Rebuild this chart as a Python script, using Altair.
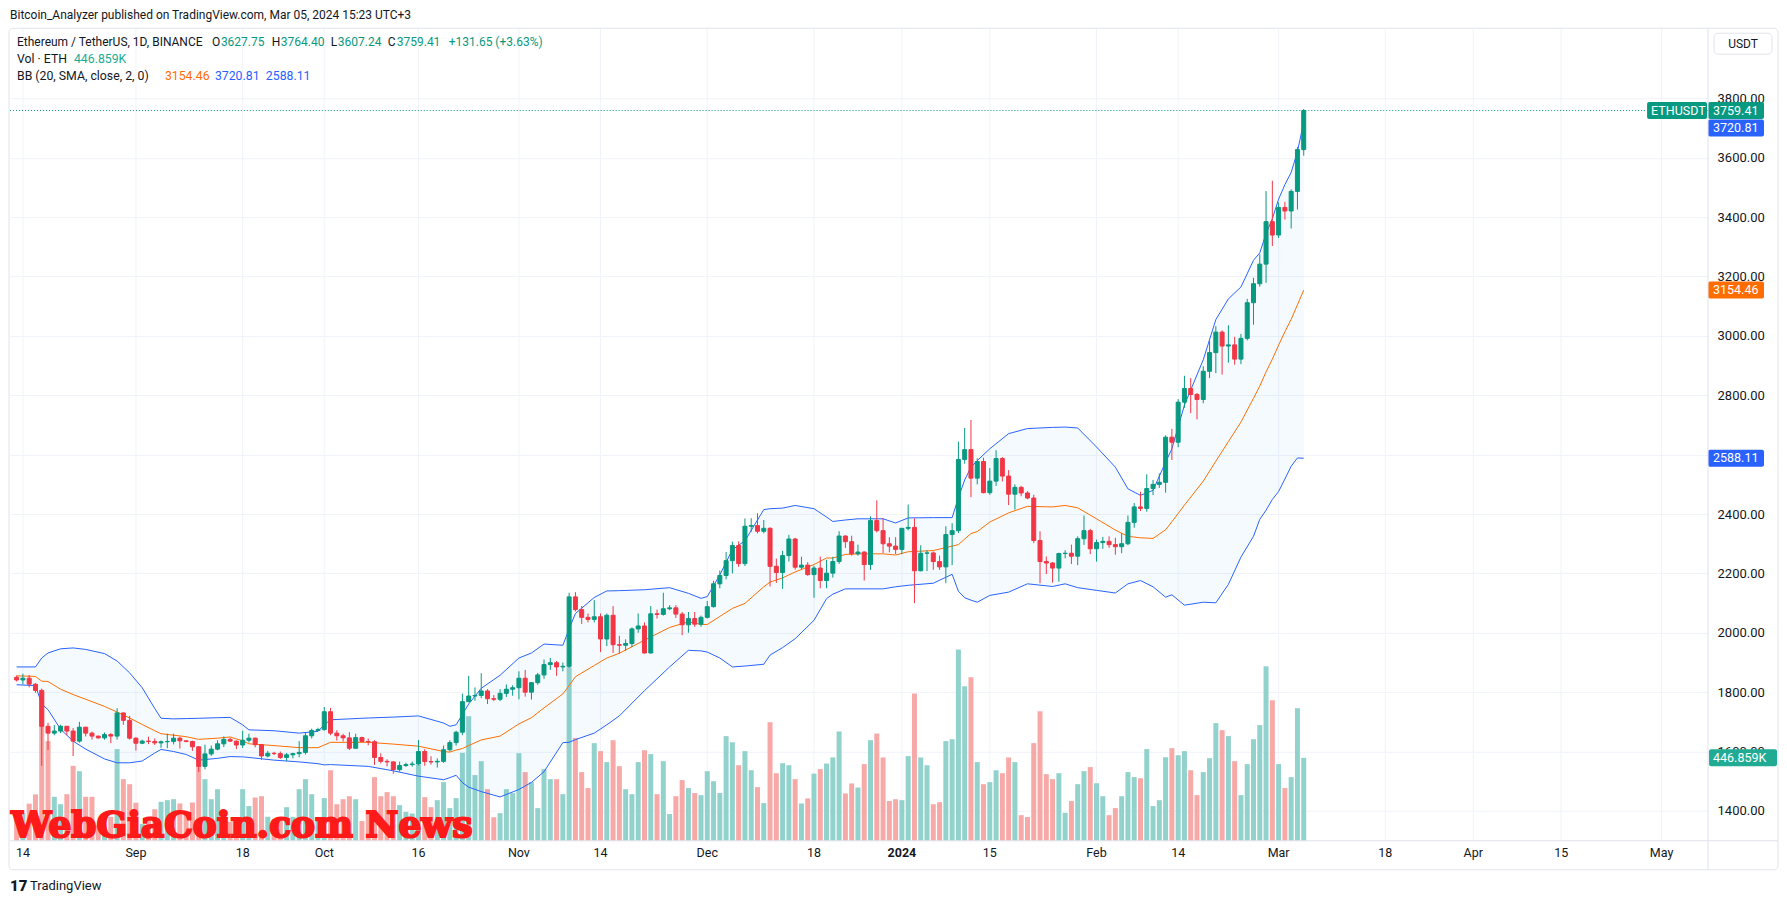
import altair as alt
import pandas as pd

# ---------------- data (ETH/USDT daily, Binance) ----------------
start_date = "2023-08-13"

open_ = [
    # Aug 13-31
    1850, 1841, 1847, 1827, 1806, 1685, 1662, 1669, 1685, 1669, 1635, 1682, 1662, 1652, 1646, 1657, 1652, 1730, 1705,
    # Sep
    1645, 1628, 1635, 1634, 1629, 1633, 1634, 1645, 1636, 1634, 1616, 1550, 1592, 1608, 1626, 1641, 1635, 1622, 1638, 1645,
    1623, 1585, 1594, 1593, 1580, 1589, 1593, 1597, 1653, 1671,
    # Oct
    1674, 1734, 1662, 1653, 1646, 1611, 1647, 1634, 1633, 1580, 1567, 1565, 1539, 1553, 1556, 1558, 1600, 1566, 1565, 1567,
    1606, 1630, 1665, 1768, 1787, 1789, 1804, 1778, 1776, 1796, 1810,
    # Nov
    1815, 1847, 1800, 1832, 1858, 1893, 1899, 1885, 1887, 2121, 2078, 2052, 2045, 2054, 1979, 2059, 1960, 1958, 1964, 2013,
    2023, 1932, 2064, 2062, 2081, 2084, 2063, 2027, 2048, 2029,
    # Dec
    2052, 2088, 2165, 2193, 2243, 2294, 2233, 2359, 2361, 2342, 2352, 2224, 2203, 2260, 2316, 2221, 2228, 2196, 2218, 2176,
    2201, 2240, 2326, 2307, 2266, 2272, 2230, 2378, 2344, 2300, 2292,
    # Jan
    2281, 2352, 2355, 2209, 2268, 2269, 2240, 2222, 2331, 2344, 2584, 2617, 2521, 2577, 2472, 2511, 2587, 2528, 2467, 2490,
    2471, 2454, 2311, 2240, 2235, 2218, 2267, 2268, 2258, 2317, 2344,
    # Feb
    2283, 2304, 2308, 2297, 2290, 2300, 2372, 2424, 2419, 2486, 2500, 2507, 2659, 2642, 2777, 2823, 2803, 2786, 2881, 2944,
    3013, 2966, 2970, 2922, 2992, 3112, 3176, 3242, 3385,
    # Mar 1-5
    3340, 3433, 3421, 3487, 3627.75,
]

high = [
    1856, 1862, 1858, 1830, 1812, 1697, 1689, 1690, 1686, 1679, 1700, 1683, 1667, 1653, 1664, 1662, 1746, 1731, 1720,
    1648, 1640, 1650, 1644, 1637, 1660, 1660, 1650, 1638, 1636, 1617, 1623, 1620, 1638, 1651, 1646, 1637, 1670, 1660, 1647,
    1625, 1602, 1599, 1600, 1595, 1596, 1635, 1664, 1677, 1680,
    1750, 1747, 1672, 1660, 1665, 1660, 1650, 1644, 1638, 1594, 1574, 1567, 1566, 1562, 1566, 1639, 1608, 1584, 1577, 1620,
    1638, 1670, 1795, 1855, 1816, 1864, 1810, 1790, 1810, 1826, 1823,
    1870, 1875, 1834, 1865, 1910, 1915, 1905, 1900, 2135, 2137, 2090, 2065, 2110, 2065, 2065, 2090, 1990, 1978, 2018, 2065,
    2035, 2090, 2078, 2135, 2093, 2093, 2070, 2070, 2070, 2058,
    2107, 2175, 2210, 2272, 2307, 2308, 2385, 2386, 2403, 2380, 2355, 2250, 2276, 2330, 2320, 2256, 2238, 2226, 2257, 2246,
    2256, 2342, 2328, 2327, 2297, 2274, 2392, 2446, 2386, 2322, 2322,
    2352, 2432, 2385, 2295, 2278, 2274, 2260, 2359, 2369, 2644, 2690, 2717, 2588, 2590, 2555, 2615, 2592, 2548, 2500, 2495,
    2477, 2465, 2342, 2257, 2238, 2270, 2278, 2297, 2325, 2395, 2350,
    2314, 2323, 2325, 2320, 2335, 2395, 2437, 2475, 2534, 2515, 2537, 2665, 2687, 2787, 2866, 2858, 2808, 2898, 2984, 3033,
    3019, 3036, 2997, 3007, 3125, 3196, 3275, 3488, 3523,
    3450, 3452, 3494, 3637, 3764.40,
]

low = [
    1836, 1826, 1816, 1798, 1552, 1605, 1655, 1662, 1655, 1585, 1630, 1651, 1640, 1643, 1640, 1628, 1640, 1690, 1640,
    1603, 1625, 1625, 1622, 1612, 1611, 1624, 1610, 1631, 1602, 1531, 1540, 1585, 1604, 1615, 1632, 1608, 1612, 1630, 1614,
    1572, 1580, 1588, 1575, 1568, 1577, 1581, 1590, 1644, 1668,
    1670, 1655, 1637, 1634, 1605, 1610, 1631, 1621, 1555, 1560, 1550, 1525, 1532, 1548, 1549, 1553, 1552, 1556, 1546, 1562,
    1600, 1620, 1655, 1766, 1771, 1780, 1760, 1770, 1770, 1784, 1788,
    1776, 1785, 1775, 1825, 1845, 1875, 1855, 1870, 1882, 2072, 2030, 2035, 2035, 1935, 1955, 1932, 1930, 1940, 1952, 2000,
    1930, 1930, 2048, 2058, 2076, 2050, 1992, 2000, 2020, 2020,
    2048, 2085, 2150, 2180, 2200, 2222, 2225, 2340, 2335, 2335, 2156, 2168, 2148, 2240, 2213, 2214, 2192, 2118, 2150, 2150,
    2186, 2232, 2286, 2260, 2260, 2176, 2212, 2338, 2269, 2271, 2265,
    2265, 2345, 2100, 2207, 2208, 2212, 2212, 2167, 2228, 2336, 2570, 2457, 2500, 2470, 2465, 2495, 2510, 2430, 2415, 2460,
    2450, 2302, 2167, 2198, 2169, 2172, 2251, 2232, 2228, 2296, 2265,
    2240, 2283, 2286, 2263, 2268, 2295, 2354, 2410, 2408, 2464, 2488, 2472, 2582, 2625, 2758, 2740, 2719, 2773, 2858, 2875,
    2870, 2910, 2903, 2905, 2985, 3038, 3166, 3179, 3303,
    3330, 3392, 3362, 3426, 3607.24,
]

close = [
    1841, 1847, 1827, 1806, 1685, 1662, 1669, 1685, 1669, 1635, 1682, 1662, 1652, 1646, 1657, 1652, 1730, 1705, 1645,
    1628, 1635, 1634, 1629, 1633, 1634, 1645, 1636, 1634, 1616, 1550, 1592, 1608, 1626, 1641, 1635, 1622, 1638, 1645, 1623,
    1585, 1594, 1593, 1580, 1589, 1593, 1597, 1653, 1671, 1674,
    1734, 1662, 1653, 1646, 1611, 1647, 1634, 1633, 1580, 1567, 1565, 1539, 1553, 1556, 1558, 1600, 1566, 1565, 1567, 1606,
    1630, 1665, 1768, 1787, 1789, 1804, 1778, 1776, 1796, 1810, 1815,
    1847, 1800, 1832, 1858, 1893, 1899, 1885, 1887, 2121, 2078, 2052, 2045, 2054, 1979, 2059, 1960, 1958, 1964, 2013, 2023,
    1932, 2064, 2062, 2081, 2084, 2063, 2027, 2048, 2029, 2052,
    2088, 2165, 2193, 2243, 2294, 2233, 2359, 2361, 2342, 2352, 2224, 2203, 2260, 2316, 2221, 2228, 2196, 2218, 2176, 2201,
    2240, 2326, 2307, 2266, 2272, 2230, 2378, 2344, 2300, 2292, 2281,
    2352, 2355, 2209, 2268, 2269, 2240, 2222, 2331, 2344, 2584, 2617, 2521, 2577, 2472, 2511, 2587, 2528, 2467, 2490, 2471,
    2454, 2311, 2240, 2235, 2218, 2267, 2268, 2258, 2317, 2344, 2283,
    2304, 2308, 2297, 2290, 2300, 2372, 2424, 2419, 2486, 2500, 2507, 2659, 2642, 2777, 2823, 2803, 2786, 2881, 2944, 3013,
    2966, 2970, 2922, 2992, 3112, 3176, 3242, 3385, 3340,
    3433, 3421, 3487, 3627.76, 3759.41,
]

volume_k = [
    120, 150, 200, 250, 800, 537, 237, 197, 251, 404, 375, 237, 237, 84, 75, 129, 494, 332, 305,
    205, 90, 130, 170, 210, 219, 224, 201, 147, 206, 506, 332, 224, 278, 165, 102, 75, 278, 187, 233,
    240, 129, 111, 110, 181, 129, 278, 332, 251, 129,
    230, 380, 197, 224, 240, 224, 106, 147, 343, 240, 262, 240, 192, 156, 147, 409, 235, 181, 219, 316,
    176, 230, 474, 671, 354, 429, 278, 127, 149, 278, 257,
    472, 370, 316, 176, 386, 332, 332, 251, 935, 554, 370, 284, 526, 483, 424, 542, 402, 278, 251, 424,
    488, 467, 251, 429, 144, 240, 327, 284, 257, 246,
    375, 321, 257, 564, 531, 407, 483, 380, 289, 203, 639, 364, 418, 407, 332, 201, 228, 362, 386, 416,
    449, 589, 255, 309, 287, 413, 542, 578, 449, 214, 224,
    219, 456, 793, 449, 407, 197, 208, 537, 547, 1030, 833, 881, 424, 305, 316, 380, 364, 449, 424, 138,
    128, 526, 698, 359, 332, 364, 151, 214, 305, 375, 397,
    310, 240, 138, 176, 240, 370, 343, 337, 494, 187, 219, 450, 499, 461, 483, 380, 246, 370, 445, 634,
    596, 564, 429, 246, 413, 547, 623, 940, 757,
    413, 284, 343, 714, 446.859,
]

# Bollinger Bands (20, SMA, close, 2) read at key dates
bb_dates = [
    "2023-08-13", "2023-08-16", "2023-08-17", "2023-08-18", "2023-08-20", "2023-08-22", "2023-08-24", "2023-08-27", "2023-08-29", "2023-08-31",
    "2023-09-02", "2023-09-04", "2023-09-05", "2023-09-07", "2023-09-09", "2023-09-11", "2023-09-14", "2023-09-16", "2023-09-18", "2023-09-19", "2023-09-23", "2023-09-27", "2023-09-30",
    "2023-10-01", "2023-10-02", "2023-10-08", "2023-10-12", "2023-10-16", "2023-10-20", "2023-10-21", "2023-10-22", "2023-10-23", "2023-10-24", "2023-10-26", "2023-10-29",
    "2023-11-01", "2023-11-03", "2023-11-05", "2023-11-08", "2023-11-09", "2023-11-10", "2023-11-13", "2023-11-15", "2023-11-17", "2023-11-21", "2023-11-25", "2023-11-28", "2023-11-30",
    "2023-12-01", "2023-12-03", "2023-12-05", "2023-12-07", "2023-12-10", "2023-12-11", "2023-12-13", "2023-12-15", "2023-12-18", "2023-12-20", "2023-12-21", "2023-12-23", "2023-12-25", "2023-12-29", "2023-12-31",
    "2024-01-02", "2024-01-06", "2024-01-09", "2024-01-10", "2024-01-11", "2024-01-12", "2024-01-13", "2024-01-15", "2024-01-18", "2024-01-21", "2024-01-25", "2024-01-27", "2024-01-29",
    "2024-02-01", "2024-02-04", "2024-02-06", "2024-02-08", "2024-02-10", "2024-02-12", "2024-02-13", "2024-02-15", "2024-02-18", "2024-02-20", "2024-02-22", "2024-02-24", "2024-02-26", "2024-02-27", "2024-02-28", "2024-02-29",
    "2024-03-01", "2024-03-02", "2024-03-03", "2024-03-04", "2024-03-05",
]
bb_upper = [
    1885, 1885, 1915, 1932, 1946, 1949, 1944, 1930, 1905, 1865,
    1815, 1745, 1712, 1710, 1711, 1712, 1714, 1715, 1690, 1673, 1670, 1662, 1668,
    1690, 1707, 1713, 1716, 1720, 1696, 1685, 1690, 1725, 1760, 1813, 1857,
    1915, 1932, 1962, 1958, 2013, 2065, 2119, 2141, 2142, 2145, 2152, 2133, 2116,
    2122, 2195, 2280, 2310, 2415, 2418, 2420, 2429, 2418, 2390, 2375, 2380, 2384, 2384, 2370,
    2387, 2388, 2388, 2455, 2515, 2558, 2580, 2620, 2671, 2688, 2692, 2693, 2690,
    2626, 2558, 2485, 2463, 2480, 2575, 2620, 2767, 2920, 3055, 3125, 3165, 3255, 3280, 3345, 3395,
    3461, 3510, 3551, 3621, 3720.81,
]
bb_basis = [
    1855, 1853, 1837, 1836, 1810, 1792, 1776, 1752, 1733, 1713,
    1691, 1670, 1660, 1655, 1650, 1641, 1645, 1649, 1636, 1626, 1620, 1613, 1613,
    1622, 1631, 1631, 1625, 1618, 1600, 1598, 1605, 1610, 1620, 1639, 1652,
    1693, 1714, 1747, 1794, 1822, 1852, 1890, 1915, 1931, 1975, 2018, 2037, 2028,
    2028, 2055, 2082, 2099, 2155, 2171, 2185, 2205, 2230, 2252, 2252, 2264, 2266, 2266, 2262,
    2273, 2277, 2292, 2297, 2316, 2334, 2341, 2373, 2404, 2426, 2424, 2429, 2421,
    2384, 2346, 2325, 2320, 2318, 2347, 2374, 2430, 2511, 2578, 2644, 2710, 2790, 2831, 2879, 2922,
    2969, 3014, 3056, 3105, 3154.46,
]
bb_lower = [
    1825, 1822, 1760, 1741, 1675, 1635, 1608, 1575, 1562, 1562,
    1568, 1595, 1607, 1600, 1590, 1571, 1577, 1583, 1582, 1580, 1571, 1565, 1559,
    1555, 1556, 1550, 1535, 1517, 1505, 1512, 1520, 1495, 1480, 1465, 1447,
    1472, 1496, 1532, 1630, 1631, 1640, 1662, 1690, 1720, 1805, 1885, 1941, 1939,
    1935, 1915, 1885, 1888, 1894, 1925, 1950, 1980, 2042, 2115, 2130, 2148, 2148, 2148, 2155,
    2160, 2167, 2197, 2140, 2118, 2110, 2103, 2126, 2137, 2165, 2156, 2165, 2152,
    2143, 2134, 2165, 2176, 2155, 2120, 2128, 2093, 2103, 2101, 2163, 2255, 2325, 2382, 2413, 2449,
    2476, 2518, 2561, 2589, 2588.11,
]

price_ticks = [1400, 1600, 1800, 2000, 2200, 2400, 2600, 2800, 3000, 3200, 3400, 3600, 3800]
hidden_price_label = 2600  # covered by the 2588.11 tag in the reference
time_ticks = [
    "2023-08-14", "2023-09-01", "2023-09-18", "2023-10-01", "2023-10-16", "2023-11-01", "2023-11-14",
    "2023-12-01", "2023-12-18", "2024-01-01", "2024-01-15", "2024-02-01", "2024-02-14", "2024-03-01",
    "2024-03-18", "2024-04-01", "2024-04-15", "2024-05-01",
]
time_labels = ["14", "Sep", "18", "Oct", "16", "Nov", "14", "Dec", "18", "2024", "15", "Feb", "14", "Mar",
               "18", "Apr", "15", "May"]

title_text = "Bitcoin_Analyzer published on TradingView.com, Mar 05, 2024 15:23 UTC+3"
symbol_text = "Ethereum / TetherUS, 1D, BINANCE"

# ---------------- styling ----------------
FONT = "Roboto"
TXT = "#131722"
UP, DN = "#089981", "#f23645"
VUP, VDN = "#92d2cc", "#f7a9a7"
BLUE, ORANGE = "#2962ff", "#ff6d00"
GRID = "#f0f3fa"
BORDER = "#e0e3eb"

W, H = 1699, 813


def ms(s):
    return int(pd.Timestamp(s, tz="UTC").value // 10**6)


XS = alt.Scale(type="utc", domain=[ms("2023-08-12T17:46:00"), ms("2024-05-07T14:24:00")], nice=False)
PS = alt.Scale(domain=[1299.3, 4036.7], nice=False, zero=False)
VS = alt.Scale(domain=[0, 4378], nice=False)

n = len(close)
df = pd.DataFrame({
    "date": pd.date_range(start_date, periods=n, freq="D").strftime("%Y-%m-%dT00:00:00Z"),
    "open": open_, "high": high, "low": low, "close": close, "vol": volume_k,
})
bb = pd.DataFrame({
    "date": [d + "T00:00:00Z" for d in bb_dates],
    "upper": bb_upper, "basis": bb_basis, "lower": bb_lower,
})
ticks_df = pd.DataFrame({"date": [t + "T00:00:00Z" for t in time_ticks], "lab": time_labels})
one = pd.DataFrame({"k": [0]})

X = alt.X("date:T", scale=XS, axis=None)
is_up = "datum.close >= datum.open"

y_axis = alt.Axis(
    orient="right", values=price_ticks, title=None, domain=False, ticks=False,
    labelExpr=f"datum.value == {hidden_price_label} ? '' : format(datum.value, '.2f')",
    grid=True, gridColor=GRID, labelFont=FONT, labelFontSize=13, labelColor=TXT, labelPadding=9,
    labelOverlap=False, labelFlush=False,
)

layers = []

# vertical grid lines at the time-axis ticks
layers.append(alt.Chart(ticks_df).mark_rule(color=GRID, strokeWidth=1).encode(x=X))

# volume
layers.append(alt.Chart(df).mark_bar(width=5).encode(
    x=X,
    y=alt.Y("vol:Q", scale=VS, axis=None),
    color=alt.condition(is_up, alt.value(VUP), alt.value(VDN)),
))

# Bollinger fill + lines
layers.append(alt.Chart(bb).mark_area(color="#2196f3", opacity=0.05).encode(
    x=X, y=alt.Y("upper:Q", scale=PS, axis=y_axis), y2="lower:Q"))
for col, colr in [("upper", BLUE), ("lower", BLUE), ("basis", ORANGE)]:
    layers.append(alt.Chart(bb).mark_line(color=colr, strokeWidth=1).encode(
        x=X, y=alt.Y(f"{col}:Q", scale=PS, axis=None)))

# candles
layers.append(alt.Chart(df).mark_rule(strokeWidth=1).encode(
    x=X, y=alt.Y("low:Q", scale=PS, axis=None), y2="high:Q",
    color=alt.condition(is_up, alt.value(UP), alt.value(DN))))
layers.append(alt.Chart(df).mark_bar(width=4, strokeWidth=1).encode(
    x=X, y=alt.Y("open:Q", scale=PS, axis=None), y2="close:Q",
    fill=alt.condition(is_up, alt.value(UP), alt.value(DN)),
    stroke=alt.condition(is_up, alt.value(UP), alt.value(DN))))

# last price dotted line
last = pd.DataFrame({"p": [close[-1]]})
layers.append(alt.Chart(last).mark_rule(color=UP, strokeDash=[1, 2], strokeWidth=1).encode(
    y=alt.Y("p:Q", scale=PS, axis=None)))

# watermark
layers.append(alt.Chart(one).mark_text(
    text="WebGiaCoin.com News", font="DejaVu Serif", fontWeight="bold",
    fontSize=36, color="#ff1a1a", stroke="#ff1a1a", strokeWidth=2.2, align="left",
    baseline="alphabetic").encode(x=alt.value(1), y=alt.value(809)))

# time-axis labels
layers.append(alt.Chart(ticks_df).transform_filter("datum.lab != '2024'").mark_text(
    align="center", baseline="middle", fontSize=12.5, font=FONT, color=TXT).encode(
    x=X, y=alt.value(825), text="lab:N"))
layers.append(alt.Chart(ticks_df).transform_filter("datum.lab == '2024'").mark_text(
    align="center", baseline="middle", fontSize=12.5, font=FONT, color=TXT, fontWeight="bold").encode(
    x=X, y=alt.value(825), text="lab:N"))


def tag(value, label, color, xc, size, tx, scale, yoff=0):
    d = pd.DataFrame({"p": [value], "t": [label]})
    box = alt.Chart(d).mark_tick(orient="horizontal", size=size, thickness=17, color=color, opacity=1,
                                 cornerRadius=2, yOffset=yoff).encode(
        x=alt.value(xc), y=alt.Y("p:Q", scale=scale, axis=None))
    t = alt.Chart(d).mark_text(align="left", baseline="middle", color="white", fontSize=12.5, font=FONT,
                               dy=yoff).encode(
        x=alt.value(tx), y=alt.Y("p:Q", scale=scale, axis=None), text="t:N")
    return [box, t]


layers += tag(close[-1], "ETHUSDT", UP, 1668, 60, 1642, PS)
layers += tag(bb_basis[-1], f"{bb_basis[-1]:.2f}", ORANGE, 1727, 56, 1704, PS)
layers += tag(bb_lower[-1], f"{bb_lower[-1]:.2f}", BLUE, 1727, 56, 1704, PS)
layers += tag(volume_k[-1], f"{volume_k[-1]:.3f}K", "#22ab94", 1734, 68, 1704, VS)
layers += tag(bb_upper[-1], f"{bb_upper[-1]:.2f}", BLUE, 1727, 56, 1704, PS, yoff=6)
layers += tag(close[-1], f"{close[-1]:.2f}", UP, 1727, 56, 1704, PS)


def txt(s, x, y, color=TXT, size=12, weight="normal", align="left", font=FONT):
    return alt.Chart(one).mark_text(text=s, align=align, baseline="middle", fontSize=size,
                                    fontWeight=weight, font=font, color=color).encode(
        x=alt.value(x), y=alt.value(y))


chg = close[-1] - close[-2]
pct = chg / close[-2] * 100

# header + legend
layers.append(txt(title_text, 0, -13, size=12))
layers.append(txt(symbol_text, 7, 14))
layers.append(txt("O", 202, 14))
layers.append(txt(f"{open_[-1]:.2f}", 211, 14, UP))
layers.append(txt("H", 262, 14))
layers.append(txt(f"{high[-1]:.2f}", 271, 14, UP))
layers.append(txt("L", 321, 14))
layers.append(txt(f"{low[-1]:.2f}", 328, 14, UP))
layers.append(txt("C", 378, 14))
layers.append(txt(f"{close[-1]:.2f}", 387, 14, UP))
layers.append(txt(f"+{chg:.2f} (+{pct:.2f}%)", 439, 14, UP))
layers.append(txt("Vol · ETH", 7, 31, size=12.3))
layers.append(txt(f"{volume_k[-1]:.3f}K", 64, 31, "#22ab94", size=12.3))
layers.append(txt("BB (20, SMA, close, 2, 0)", 7, 48, size=12.3))
layers.append(txt(f"{bb_basis[-1]:.2f}", 155, 48, ORANGE, size=12.3))
layers.append(txt(f"{bb_upper[-1]:.2f}", 205, 48, BLUE, size=12.3))
layers.append(txt(f"{bb_lower[-1]:.2f}", 256, 48, BLUE, size=12.3))

# USDT button
layers.append(alt.Chart(one).mark_rect(fill="white", stroke=BORDER, strokeWidth=1, cornerRadius=4).encode(
    x=alt.value(1705), x2=alt.value(1763), y=alt.value(5), y2=alt.value(26)))
layers.append(txt("USDT", 1734, 16, align="center", size=12))

# frame and separators
layers.append(alt.Chart(one).mark_rule(color=BORDER, strokeWidth=1).encode(
    x=alt.value(1699), y=alt.value(0), y2=alt.value(842)))
layers.append(alt.Chart(one).mark_rule(color=BORDER, strokeWidth=1).encode(
    x=alt.value(0), x2=alt.value(1769), y=alt.value(813)))
layers.append(alt.Chart(one).mark_rect(fillOpacity=0, stroke=BORDER, strokeWidth=1, cornerRadius=4).encode(
    x=alt.value(-1), x2=alt.value(1769), y=alt.value(0), y2=alt.value(842)))

# TradingView logo line
layers.append(txt("17", 0, 858, color="#131722", size=15, weight=900))
layers.append(txt("TradingView", 20, 858, size=13))

chart = alt.layer(*layers).resolve_scale(y="independent").properties(
    width=W, height=H,
    padding={"left": 2, "top": 20, "right": 71, "bottom": 54},
    autosize=alt.AutoSizeParams(type="none"),
).configure_view(stroke=None)

chart.save("out.html", embed_options={"renderer": "svg", "actions": False})
